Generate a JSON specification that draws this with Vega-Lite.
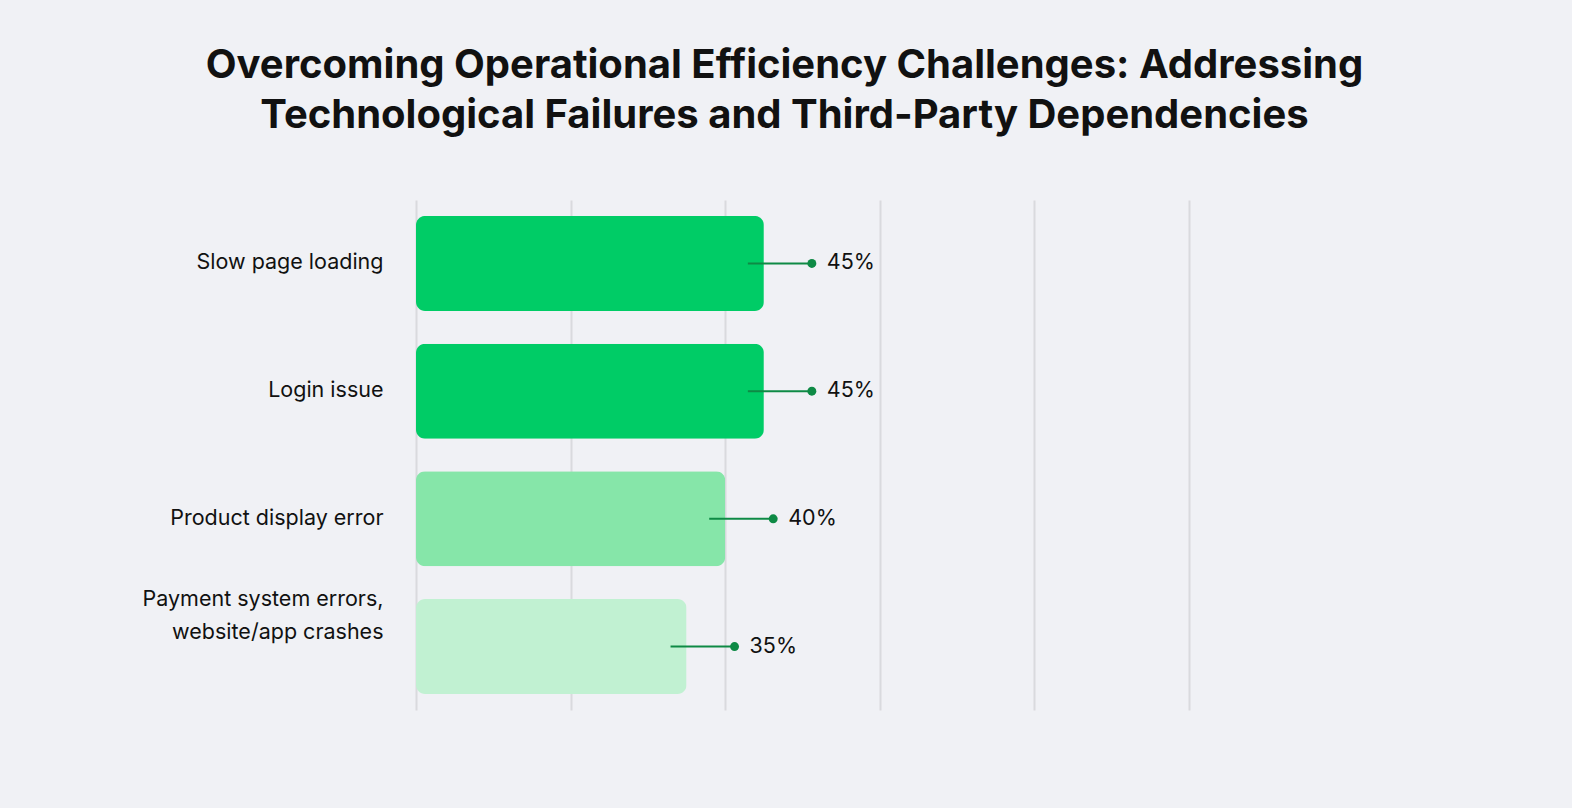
{
  "$schema": "https://vega.github.io/schema/vega-lite/v6.json",
  "width": 773,
  "height": 510,
  "autosize": "none",
  "padding": {"left": 416, "top": 200, "right": 383, "bottom": 98},
  "background": "#F0F1F5",
  "view": {"stroke": null},
  "title": {
    "text": ["Overcoming Operational Efficiency Challenges: Addressing", "Technological Failures and Third-Party Dependencies"],
    "font": "Inter",
    "fontSize": 40,
    "fontWeight": "bold",
    "color": "#111111",
    "anchor": "middle",
    "dx": -18,
    "offset": 64,
    "lineHeight": 50
  },
  "data": {
    "values": [
      {"issue": "Slow page loading", "value": 45},
      {"issue": "Login issue", "value": 45},
      {"issue": "Product display error", "value": 40},
      {"issue": "Payment system errors, website/app crashes", "value": 35}
    ]
  },
  "encoding": {
    "y": {
      "field": "issue",
      "type": "nominal",
      "sort": null,
      "scale": {"paddingInner": 0.256, "paddingOuter": 0.125},
      "axis": {
        "title": null,
        "domain": false,
        "ticks": false,
        "labelPadding": 33,
        "labelFont": "Inter",
        "labelFontSize": 21.5,
        "labelColor": "#111111",
        "labelLimit": 400,
        "labelLineHeight": 33,
        "labelExpr": "datum.value == 'Payment system errors, website/app crashes' ? ['Payment system errors,', 'website/app crashes'] : datum.label",
        "labelOffset": {"condition": {"test": "datum.value == 'Payment system errors, website/app crashes'", "value": -47}, "value": 0}
      }
    },
    "x": {
      "field": "value",
      "type": "quantitative",
      "scale": {"domain": [0, 100]},
      "axis": {
        "title": null,
        "labels": false,
        "domain": false,
        "ticks": false,
        "values": [0, 20, 40, 60, 80, 100],
        "grid": true,
        "gridColor": "#D9DADE",
        "gridWidth": 2
      }
    }
  },
  "layer": [
    {
      "mark": {"type": "bar", "cornerRadius": 9},
      "encoding": {
        "color": {
          "field": "value",
          "type": "ordinal",
          "scale": {"domain": [45, 40, 35], "range": ["#00CC66", "#86E6A9", "#C1F1D2"]},
          "legend": null
        }
      }
    },
    {
      "mark": {"type": "rule", "xOffset": -16, "x2Offset": 48, "color": "#0E8A45", "strokeWidth": 2},
      "encoding": {"x2": {"field": "value"}}
    },
    {
      "mark": {"type": "circle", "xOffset": 48, "size": 80, "color": "#0E8A45", "opacity": 1},
      "encoding": {}
    },
    {
      "mark": {"type": "text", "xOffset": 63, "align": "left", "baseline": "middle", "font": "Inter", "fontSize": 21.5, "color": "#111111"},
      "encoding": {"text": {"value": {"expr": "datum.value + '%'"}}}
    }
  ]
}
